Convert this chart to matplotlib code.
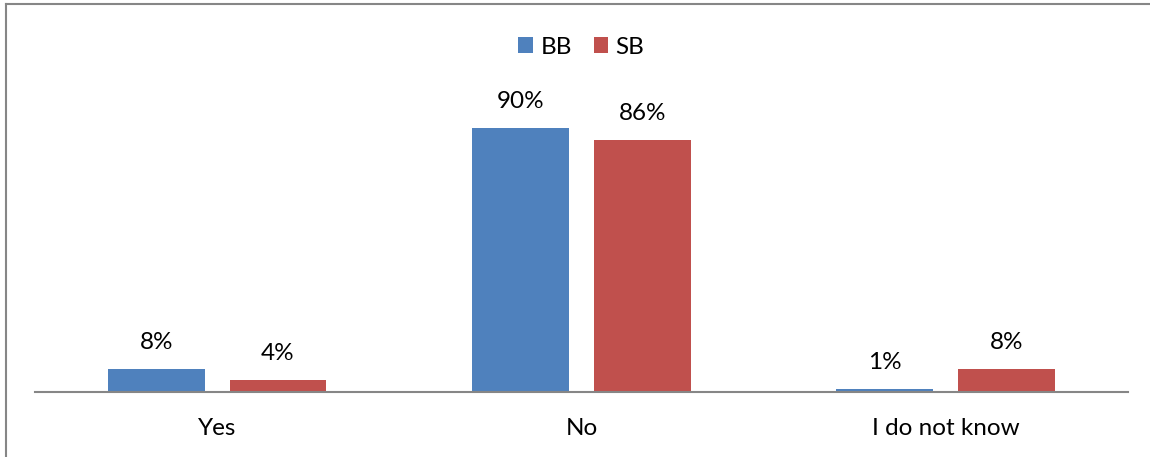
import numpy as np
import matplotlib.pyplot as plt
from matplotlib.lines import Line2D

categories = ["Yes", "No", "I do not know"]
bb_values = [8, 90, 1]
sb_values = [4, 86, 8]
series_names = ["BB", "SB"]

plt.rcParams['font.family'] = ['Lato', 'DejaVu Sans']
fs = 17.5

fig = plt.figure(figsize=(11.5, 4.57), dpi=100)
ax = fig.add_axes([0.0304, 0.1422, 0.9504, 0.7703])

x = np.arange(len(categories))
w = 0.266
off = 0.167
b1 = ax.bar(x - off, bb_values, w, color="#4F81BD", label=series_names[0])
b2 = ax.bar(x + off, sb_values, w, color="#C0504D", label=series_names[1])

for bars, vals in ((b1, bb_values), (b2, sb_values)):
    for r, v in zip(bars, vals):
        ax.annotate(f"{v}%", (r.get_x() + r.get_width() / 2, v),
                    xytext=(0, 19), textcoords="offset points",
                    ha="center", va="center", fontsize=fs)

ax.set_xlim(-0.5, 2.5)
ax.set_ylim(0, 120)
ax.set_yticks([])
ax.set_xticks(x)
ax.set_xticklabels(categories, fontsize=fs)
ax.tick_params(axis="x", length=0, pad=19)
for s in ("top", "right", "left"):
    ax.spines[s].set_visible(False)
ax.spines["bottom"].set_color("#868686")
ax.spines["bottom"].set_linewidth(1.5)

ax.legend(loc="center", bbox_to_anchor=(0.5, 0.98), ncol=2, frameon=False,
          fontsize=fs, handlelength=0.6, handleheight=0.6, handletextpad=0.3,
          columnspacing=0.9)

# outer chart border (left and top edges)
fig.add_artist(Line2D([6 / 1150, 6 / 1150], [0, 1 - 4 / 457], color="#868686", lw=1.5))
fig.add_artist(Line2D([6 / 1150, 1], [1 - 4 / 457, 1 - 4 / 457], color="#868686", lw=1.5))

fig.savefig("out.png", dpi=100)
